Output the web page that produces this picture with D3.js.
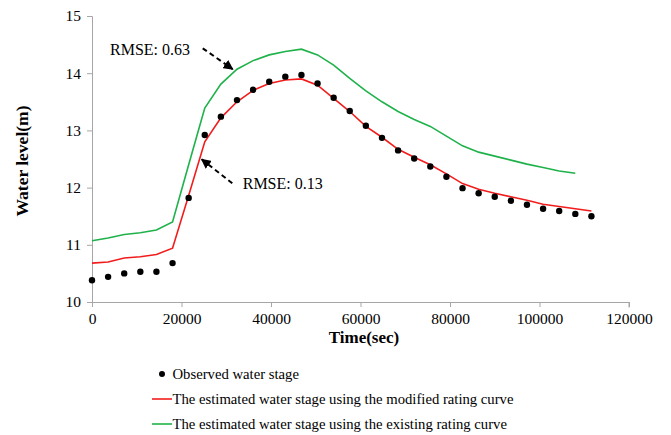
<!DOCTYPE html>
<html><head><meta charset="utf-8">
<script src="https://cdn.jsdelivr.net/npm/d3@7/dist/d3.min.js"></script>
<style>
body{margin:0;background:#fff;}
svg{display:block;font-family:"Liberation Serif","Times New Roman",serif;}
</style></head>
<body><svg id="c" width="671" height="435"></svg>
<script>
// time in seconds (hourly)
const times = d3.range(32).map(i => i * 3600);
const observed = [10.38,10.44,10.50,10.53,10.53,10.68,11.82,12.92,13.24,13.53,13.71,13.85,13.94,13.97,13.82,13.57,13.34,13.08,12.87,12.65,12.51,12.37,12.19,11.99,11.90,11.84,11.77,11.70,11.63,11.59,11.54,11.50];
const modified = [10.68,10.70,10.77,10.79,10.83,10.94,11.86,12.80,13.22,13.50,13.70,13.82,13.88,13.90,13.79,13.56,13.33,13.07,12.88,12.67,12.53,12.40,12.24,12.07,11.97,11.90,11.84,11.78,11.71,11.67,11.63,11.59];
const existing = [11.07,11.12,11.18,11.21,11.26,11.40,12.40,13.39,13.81,14.07,14.22,14.32,14.38,14.42,14.32,14.14,13.91,13.69,13.50,13.33,13.19,13.07,12.90,12.73,12.62,12.55,12.48,12.41,12.35,12.29,12.25];
const xTicks = [0,20000,40000,60000,80000,100000,120000];
const yTicks = [10,11,12,13,14,15];
const legendLabels = ["Observed water stage","The estimated water stage using the modified rating curve","The estimated water stage using the existing rating curve"];
const annotations = [
  {text:"RMSE: 0.63", tx:4020, ty:14.31, x1:24740, y1:14.435, x2:31440, y2:14.07},
  {text:"RMSE: 0.13", tx:33680, ty:11.97, x1:31350, y1:12.075, x2:24510, y2:12.495}
];

const svg = d3.select("#c");
const x = d3.scaleLinear().domain([0,120000]).range([92,629]);
const y = d3.scaleLinear().domain([10,15]).range([302,16]);
const axisColor = "#a6a6a6";
const serif = "'Liberation Serif','Times New Roman',serif";

// axes
const gx = svg.append("g").attr("transform",`translate(0,${y(10)})`)
  .call(d3.axisBottom(x).tickValues(xTicks).tickSize(5).tickPadding(6).tickFormat(d3.format("d")));
const gy = svg.append("g").attr("transform",`translate(${x(0)},0)`)
  .call(d3.axisLeft(y).tickValues(yTicks).tickSize(5).tickPadding(6).tickFormat(d3.format("d")));
[gx,gy].forEach(g=>{
  g.attr("font-family",serif);
  g.selectAll("path,line").attr("stroke",axisColor).attr("stroke-width",1);
  g.selectAll("text").attr("font-family",serif).attr("font-size",15.5).attr("fill","#000");
});
gx.select(".domain").attr("d",`M${x(0)},0.5V0.5H${x(120000)}V5.5`);

// axis titles
svg.append("text").attr("x",364).attr("y",343).attr("text-anchor","middle")
  .attr("font-weight","bold").attr("font-size",17).text("Time(sec)");
svg.append("text").attr("transform",`translate(28,${(y(15)+y(10))/2 + 2}) rotate(-90)`)
  .attr("text-anchor","middle").attr("font-weight","bold").attr("font-size",17.5).text("Water level(m)");

// lines
const line = d3.line().x((d,i)=>x(times[i])).y(d=>y(d));
svg.append("path").datum(existing).attr("d",line).attr("fill","none").attr("stroke","#1fb24a").attr("stroke-width",1.6);
svg.append("path").datum(modified).attr("d",line).attr("fill","none").attr("stroke","#f21c1c").attr("stroke-width",1.6);
svg.selectAll("circle.obs").data(observed).enter().append("circle").attr("class","obs")
  .attr("cx",(d,i)=>x(times[i])).attr("cy",d=>y(d)).attr("r",3.2).attr("fill","#000");

// annotations
const defs = svg.append("defs");
defs.append("marker").attr("id","ah").attr("viewBox","0 0 10 10").attr("refX",9).attr("refY",5)
  .attr("markerWidth",5).attr("markerHeight",5).attr("orient","auto").attr("markerUnits","strokeWidth")
  .append("path").attr("d","M0,0L10,5L0,10Z").attr("fill","#000");
annotations.forEach(a=>{
  svg.append("line").attr("x1",x(a.x1)).attr("y1",y(a.y1)).attr("x2",x(a.x2)).attr("y2",y(a.y2))
    .attr("stroke","#000").attr("stroke-width",2).attr("stroke-dasharray","5,3.5").attr("marker-end","url(#ah)");
  svg.append("text").attr("x",x(a.tx)).attr("y",y(a.ty)).attr("font-size",16).text(a.text);
});

// legend
const lg = svg.append("g");
const ly = [374,399,424];
lg.append("circle").attr("cx",162).attr("cy",ly[0]).attr("r",3).attr("fill","#000");
lg.append("line").attr("x1",152).attr("x2",172).attr("y1",ly[1]).attr("y2",ly[1]).attr("stroke","#f21c1c").attr("stroke-width",1.6);
lg.append("line").attr("x1",152).attr("x2",172).attr("y1",ly[2]).attr("y2",ly[2]).attr("stroke","#1fb24a").attr("stroke-width",1.6);
legendLabels.forEach((t,i)=>{
  lg.append("text").attr("x",172.5).attr("y",ly[i]+5).attr("font-size",14.7).text(t);
});
</script></body></html>
